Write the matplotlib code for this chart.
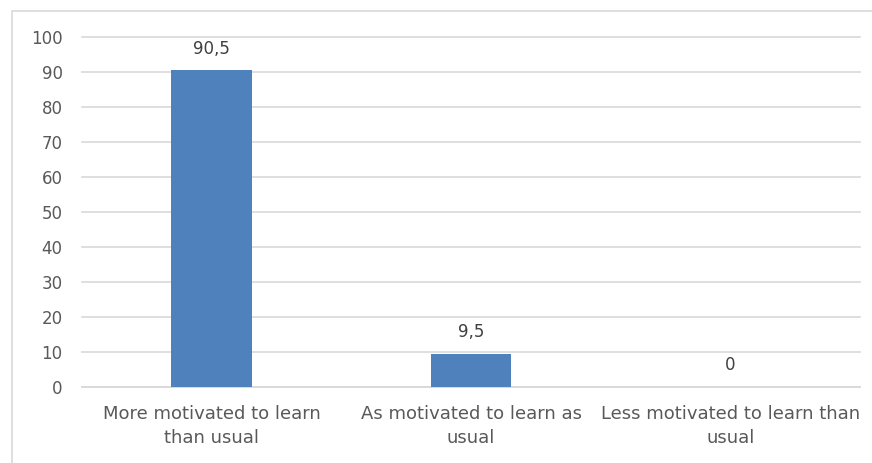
import matplotlib
matplotlib.use("Agg")
import matplotlib.pyplot as plt
from matplotlib.patches import Rectangle

categories = ["More motivated to learn\nthan usual",
              "As motivated to learn as\nusual",
              "Less motivated to learn than\nusual"]
values = [90.5, 9.5, 0]
labels = ["90,5", "9,5", "0"]
yticks = [0, 10, 20, 30, 40, 50, 60, 70, 80, 90, 100]

plt.rcParams['font.family'] = ['DejaVu Sans']

text_col = "#595959"
grid_col = "#d9d9d9"

fig = plt.figure(figsize=(8.72, 4.63), dpi=100)
# light chart-area frame
fig.patches.append(Rectangle((12 / 872, -0.1), 1.0, 1.1 - 11 / 463,
                             transform=fig.transFigure, fill=False,
                             edgecolor=grid_col, linewidth=1.2))
ax = fig.add_axes([82 / 872, 1 - 387 / 463, 778 / 872, 350 / 463])

x = range(len(values))
ax.bar(x, values, width=0.31, color="#4f81bd", zorder=3)
for xi, v, lab in zip(x, values, labels):
    ax.annotate(lab, (xi, v), xytext=(0, 9), textcoords="offset points",
                ha="center", va="bottom", fontsize=12, color="#404040")

ax.set_xlim(-0.5, 2.5)
ax.set_ylim(0, 100)
ax.set_yticks(yticks)
ax.set_yticklabels([str(t) for t in yticks])
ax.yaxis.grid(True, color=grid_col, linewidth=1.2, zorder=0)
for gl in ax.get_ygridlines():
    gl.set_clip_on(False)
ax.set_axisbelow(True)
ax.set_xticks(list(x))
ax.set_xticklabels(categories, fontsize=13, color=text_col,
                   linespacing=1.4)
ax.tick_params(axis="y", length=0, pad=14, labelsize=12, labelcolor=text_col)
ax.tick_params(axis="x", length=0, pad=13)
for s in ["top", "right", "left"]:
    ax.spines[s].set_visible(False)
ax.spines["bottom"].set_color(grid_col)
ax.spines["bottom"].set_linewidth(1.2)

fig.savefig("out.png", dpi=100)
